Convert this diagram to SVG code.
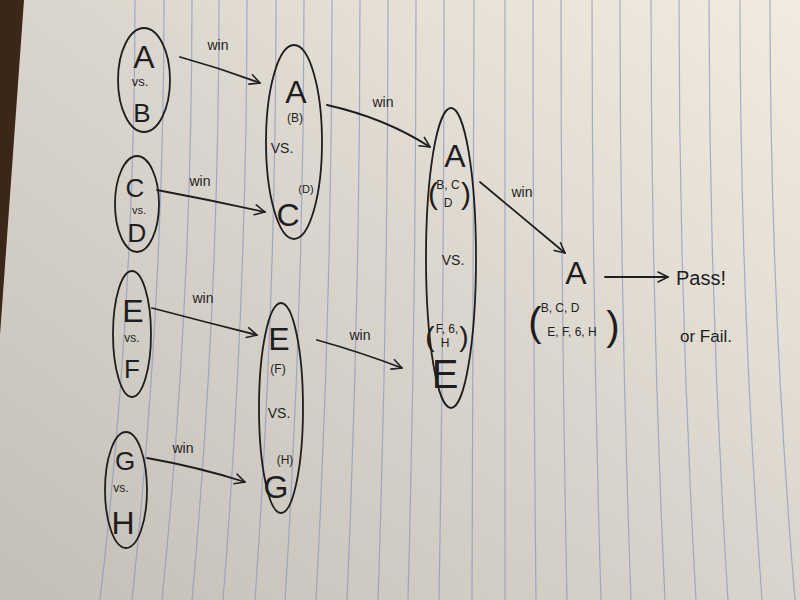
<svg xmlns="http://www.w3.org/2000/svg" width="800" height="600" viewBox="0 0 800 600">
<defs>
<linearGradient id="paper" x1="1" y1="0" x2="0" y2="1">
<stop offset="0" stop-color="#f3ebdf"/>
<stop offset="0.45" stop-color="#dcd7ce"/>
<stop offset="1" stop-color="#c3bfb7"/>
</linearGradient>
<marker id="arr" viewBox="0 0 12 12" refX="11" refY="6" markerWidth="12" markerHeight="12" markerUnits="userSpaceOnUse" orient="auto">
<path d="M1,1 L11,6 L1,11" fill="none" stroke="#222" stroke-width="1.6" stroke-linecap="round" stroke-linejoin="round"/>
</marker>
<style>
.ln{fill:none;stroke:#8794bd;stroke-width:1.2;opacity:0.7}
.ov{fill:none;stroke:#1e1e1e;stroke-width:1.8}
.c{fill:none;stroke:#1e1e1e;stroke-width:1.8;stroke-linecap:round}
text{font-family:"Liberation Sans","DejaVu Sans",sans-serif;fill:#1e1e1e;text-anchor:middle}
.big{font-size:32px}
.med{font-size:26px}
.sm{font-size:12px}
.xs{font-size:11px}
.lab{font-size:14px}
.vs{font-size:13px}
</style>
</defs>
<rect width="800" height="600" fill="url(#paper)"/>
<polygon points="0,0 24,0 0,335" fill="#3b2717"/>
<g id="rules">
<path class="ln" d="M135,0 Q135,300 100,600"/>
<path class="ln" d="M164,0 Q164,300 132,600"/>
<path class="ln" d="M192,0 Q192,300 162,600"/>
<path class="ln" d="M219,0 Q219,300 192,600"/>
<path class="ln" d="M247,0 Q247,300 223,600"/>
<path class="ln" d="M276,0 Q276,300 255,600"/>
<path class="ln" d="M304,0 Q304,300 285,600"/>
<path class="ln" d="M332,0 Q332,300 316,600"/>
<path class="ln" d="M360,0 Q360,300 347,600"/>
<path class="ln" d="M388,0 Q388,300 378,600"/>
<path class="ln" d="M416,0 Q416,300 408,600"/>
<path class="ln" d="M444,0 Q444,300 439,600"/>
<path class="ln" d="M474,0 Q474,300 472,600"/>
<path class="ln" d="M505,0 Q505,300 505,600"/>
<path class="ln" d="M533,0 Q533,300 536,600"/>
<path class="ln" d="M561,0 Q561,300 567,600"/>
<path class="ln" d="M592,0 Q592,300 601,600"/>
<path class="ln" d="M620,0 Q620,300 631,600"/>
<path class="ln" d="M651,0 Q651,300 665,600"/>
<path class="ln" d="M679,0 Q679,300 696,600"/>
<path class="ln" d="M709,0 Q709,300 728,600"/>
<path class="ln" d="M740,0 Q740,300 762,600"/>
<path class="ln" d="M770,0 Q770,300 795,600"/>
</g>
<g id="connectors">
<path class="c" d="M180,57 Q220,68 260,83" marker-end="url(#arr)"/>
<text class="lab" x="218" y="50">win</text>
<path class="c" d="M157,190 Q210,200 265,212" marker-end="url(#arr)"/>
<text class="lab" x="200" y="186">win</text>
<path class="c" d="M327,105 Q385,118 430,147" marker-end="url(#arr)"/>
<text class="lab" x="383" y="107">win</text>
<path class="c" d="M152,308 Q205,322 257,335" marker-end="url(#arr)"/>
<text class="lab" x="203" y="303">win</text>
<path class="c" d="M147,458 Q198,467 245,482" marker-end="url(#arr)"/>
<text class="lab" x="183" y="453">win</text>
<path class="c" d="M317,340 Q360,352 402,368" marker-end="url(#arr)"/>
<text class="lab" x="360" y="340">win</text>
<path class="c" d="M480,182 L565,253" marker-end="url(#arr)"/>
<text class="lab" x="522" y="197">win</text>
<path class="c" d="M605,277 L668,277" marker-end="url(#arr)"/>
</g>
<g id="node-ab">
<ellipse class="ov" cx="144" cy="80" rx="26" ry="52"/>
<text class="big" x="144" y="68">A</text>
<text class="vs" x="140" y="86">vs.</text>
<text class="med" x="142" y="122">B</text>
</g>
<g id="node-cd">
<ellipse class="ov" cx="137" cy="204" rx="22" ry="48"/>
<text class="med" x="135" y="197">C</text>
<text class="xs" x="139" y="214">vs.</text>
<text class="med" x="137" y="242">D</text>
</g>
<g id="node-ef">
<ellipse class="ov" cx="132" cy="334" rx="19" ry="63"/>
<text class="big" x="133" y="322">E</text>
<text class="sm" x="132" y="342">vs.</text>
<text class="med" x="132" y="378">F</text>
</g>
<g id="node-gh">
<ellipse class="ov" cx="126" cy="490" rx="21" ry="58"/>
<text class="med" x="125" y="470">G</text>
<text class="sm" x="121" y="492">vs.</text>
<text class="big" x="123" y="534">H</text>
</g>
<g id="node-ac">
<ellipse class="ov" cx="294" cy="142" rx="28" ry="97"/>
<text class="big" x="296" y="103">A</text>
<text class="sm" x="295" y="122">(B)</text>
<text class="lab" x="282" y="153">VS.</text>
<text class="xs" x="306" y="193">(D)</text>
<text class="big" x="288" y="226">C</text>
</g>
<g id="node-eg">
<ellipse class="ov" cx="281" cy="408" rx="22" ry="105"/>
<text class="big" x="279" y="350">E</text>
<text class="sm" x="278" y="373">(F)</text>
<text class="lab" x="279" y="418">VS.</text>
<text class="sm" x="285" y="464">(H)</text>
<text class="big" x="276" y="498">G</text>
</g>
<g id="node-ae">
<ellipse class="ov" cx="451" cy="258" rx="25" ry="150"/>
<text class="big" x="455" y="167">A</text>
<text class="sm" x="448" y="189">B, C</text>
<text class="sm" x="448" y="207">D</text>
<text x="433" y="204" style="font-size:30px">(</text>
<text x="466" y="204" style="font-size:30px">)</text>
<text class="lab" x="453" y="265">VS.</text>
<text class="sm" x="447" y="333">F, 6,</text>
<text class="sm" x="445" y="347">H</text>
<text x="430" y="346" style="font-size:28px">(</text>
<text x="464" y="346" style="font-size:28px">)</text>
<text style="font-size:40px" x="445" y="388">E</text>
</g>
<g id="node-final">
<text class="big" x="576" y="284">A</text>
<text class="sm" x="560" y="312">B, C, D</text>
<text class="sm" x="572" y="336">E, F, 6, H</text>
<text x="535" y="336" style="font-size:40px">(</text>
<text x="613" y="340" style="font-size:40px">)</text>
</g>
<g id="node-result">
<text x="701" y="285" style="font-size:20px">Pass!</text>
<text x="706" y="342" style="font-size:17px">or Fail.</text>
</g>
</svg>
